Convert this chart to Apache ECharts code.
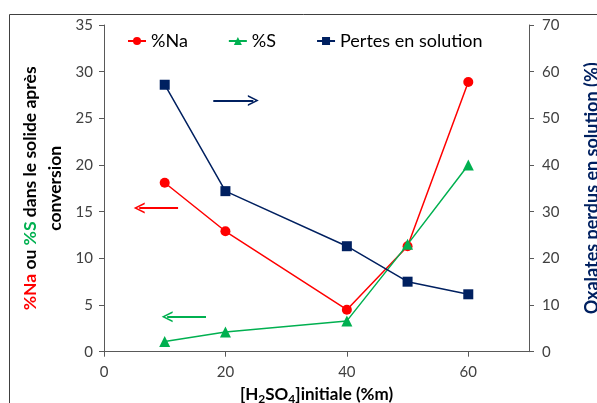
<!DOCTYPE html>
<html><head><meta charset="utf-8">
<script src="https://cdn.jsdelivr.net/npm/echarts@6/dist/echarts.min.js"></script>
<style>html,body{margin:0;padding:0;background:#fff}#c{width:597px;height:403px}</style>
</head><body><div id="c"></div>
<script>
var xVals = [10, 20, 40, 50, 60];
var naVals = [18.1, 12.9, 4.5, 11.3, 28.9];
var sVals = [1.1, 2.1, 3.3, 11.5, 20.0];
var pertesVals = [57.2, 34.4, 22.6, 15.0, 12.3];
var xTicks = [0, 20, 40, 60];
// annotation arrows [fromX, toX, y]
var naArrow = [12.2, 5.8, 15.4];
var sArrow = [16.8, 10.4, 3.75];
var pertesArrow = [18.0, 24.6, 53.8];

var RED = '#FF0000', GREEN = '#00B050', NAVY = '#002060';
var FONT = 'Lato';
var chev = 'path://M0,10 L5,0 L10,10 L8.4,10 L5,3 L1.6,10 Z';

function pairs(xs, ys) { return xs.map(function (x, i) { return [x, ys[i]]; }); }
function arrowLine(a, color) {
  return {
    silent: true, symbol: ['none', chev], symbolSize: 11,
    label: { show: false }, animation: false,
    emphasis: { disabled: true },
    lineStyle: { color: color, width: 2, type: 'solid' },
    data: [[{ coord: [a[0], a[2]] }, { coord: [a[1], a[2]] }]]
  };
}

var chart = echarts.init(document.getElementById('c'), null, { renderer: 'canvas' });
var axisLineStyle = { color: '#595959', width: 1 };
var labelStyle = { color: '#404040', fontSize: 15, fontFamily: FONT };
chart.setOption({
  animation: false,
  textStyle: { fontFamily: FONT },
  graphic: [{ type: 'rect', shape: { x: 9.5, y: 14.5, width: 700, height: 500 }, style: { fill: 'none', stroke: '#404040', lineWidth: 1 }, silent: true }],
  grid: { left: 104, right: 68, top: 25, bottom: 51.3, outerBoundsMode: 'none', containLabel: false },
  legend: {
    top: 27, left: 122, itemGap: 40, itemWidth: 18, itemHeight: 10,
    textStyle: { fontSize: 18, color: '#000', fontFamily: FONT },
    data: ['%Na', '%S', 'Pertes en solution']
  },
  xAxis: {
    type: 'value', min: 0, max: 70, interval: 20,
    splitLine: { show: false },
    axisLine: { lineStyle: axisLineStyle },
    axisTick: { show: true, length: 5, lineStyle: axisLineStyle },
    axisLabel: Object.assign({ margin: 13, showMaxLabel: false,
      formatter: function (v) { return xTicks.indexOf(v) >= 0 ? String(v) : ''; } }, labelStyle),
    name: '{t|[H}{sub|2}{t|SO}{sub|4}{t|]initiale (%m)}',
    nameLocation: 'middle', nameGap: 33,
    nameTextStyle: { rich: {
      t: { fontSize: 17, fontWeight: 'bold', color: '#000', fontFamily: FONT },
      sub: { fontSize: 12, fontWeight: 'bold', color: '#000', fontFamily: FONT, padding: [8, 0, 0, 0] }
    } }
  },
  yAxis: [{
    type: 'value', min: 0, max: 35, interval: 5,
    splitLine: { show: false },
    axisLine: { show: true, lineStyle: axisLineStyle },
    axisTick: { show: true, length: 5, lineStyle: axisLineStyle },
    axisLabel: Object.assign({ margin: 11 }, labelStyle),
    name: '{r|%Na}{k| ou }{g|%S}{k| dans le solide après}\n{k|conversion}',
    nameLocation: 'middle', nameGap: 30, nameRotate: 90,
    nameTextStyle: { align: 'center', rich: {
      r: { color: RED, fontSize: 17.5, fontWeight: 'bold', fontFamily: FONT, lineHeight: 25 },
      g: { color: GREEN, fontSize: 17.5, fontWeight: 'bold', fontFamily: FONT, lineHeight: 25 },
      k: { color: '#000', fontSize: 17.5, fontWeight: 'bold', fontFamily: FONT, lineHeight: 25 }
    } }
  }, {
    type: 'value', min: 0, max: 70, interval: 10, position: 'right',
    splitLine: { show: false },
    axisLine: { show: true, lineStyle: axisLineStyle },
    axisTick: { show: true, length: 5, lineStyle: axisLineStyle },
    axisLabel: Object.assign({ margin: 13 }, labelStyle),
    name: 'Oxalates perdus en solution (%)',
    nameLocation: 'middle', nameGap: 54, nameRotate: 90,
    nameTextStyle: { color: NAVY, fontSize: 18, fontWeight: 'bold', fontFamily: FONT }
  }],
  series: [{
    name: '%Na', type: 'line', yAxisIndex: 0, data: pairs(xVals, naVals),
    symbol: 'circle', symbolSize: 10,
    lineStyle: { color: RED, width: 1.5 }, itemStyle: { color: RED },
    markLine: arrowLine(naArrow, RED)
  }, {
    name: '%S', type: 'line', yAxisIndex: 0, data: pairs(xVals, sVals),
    symbol: 'triangle', symbolSize: 11,
    lineStyle: { color: GREEN, width: 1.5 }, itemStyle: { color: GREEN },
    markLine: arrowLine(sArrow, GREEN)
  }, {
    name: 'Pertes en solution', type: 'line', yAxisIndex: 1, data: pairs(xVals, pertesVals),
    symbol: 'rect', symbolSize: 10,
    lineStyle: { color: NAVY, width: 1.5 }, itemStyle: { color: NAVY },
    markLine: arrowLine(pertesArrow, NAVY)
  }]
});
</script>
</body></html>
